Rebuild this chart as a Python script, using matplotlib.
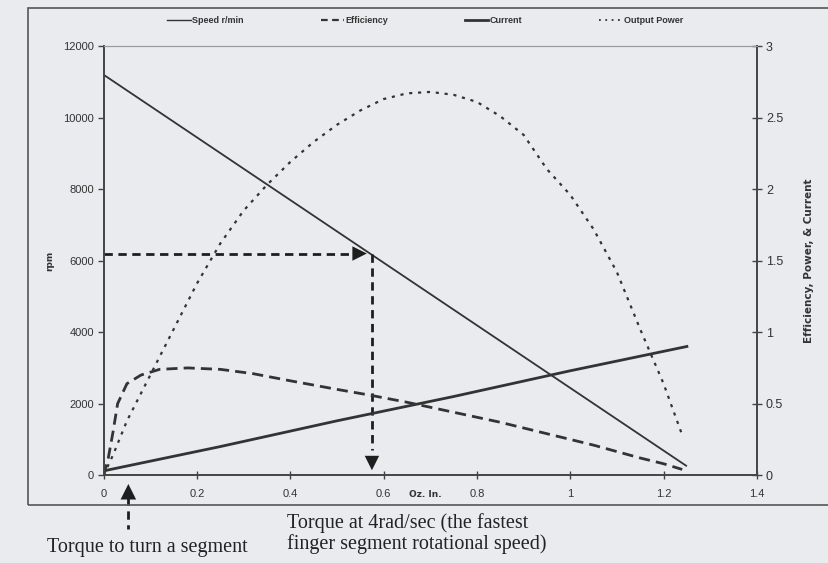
import matplotlib
matplotlib.use('Agg')
import matplotlib.pyplot as plt
from matplotlib.patches import Rectangle
from matplotlib.lines import Line2D

# ---------------- data ----------------
speed_torque = [0.0, 1.25]
speed_rpm = [11200, 250]

current_torque = [0.0, 0.25, 0.5, 0.75, 1.0, 1.25]
current_amp = [0.03, 0.20, 0.38, 0.55, 0.73, 0.90]

eff_torque = [0, 0.01, 0.02, 0.03, 0.05, 0.08, 0.12, 0.18, 0.25, 0.32, 0.4,
              0.5, 0.57, 0.65, 0.75, 0.85, 0.95, 1.05, 1.15, 1.2, 1.24]
efficiency = [0.0, 0.12, 0.30, 0.50, 0.64, 0.70, 0.74, 0.75, 0.74, 0.71, 0.66,
              0.60, 0.56, 0.51, 0.44, 0.37, 0.29, 0.21, 0.12, 0.08, 0.04]

power_torque = [0, 0.02, 0.05, 0.1, 0.15, 0.2, 0.25, 0.3, 0.35, 0.4, 0.45, 0.5,
                0.55, 0.6, 0.65, 0.7, 0.75, 0.8, 0.85, 0.9, 0.95, 1.0, 1.05,
                1.1, 1.15, 1.2, 1.24]
output_power = [0, 0.14, 0.38, 0.70, 1.02, 1.34, 1.62, 1.85, 2.03, 2.19, 2.33,
                2.45, 2.55, 2.63, 2.67, 2.68, 2.66, 2.61, 2.51, 2.38, 2.14,
                1.96, 1.72, 1.42, 1.02, 0.64, 0.28]

left_ticks = [0, 2000, 4000, 6000, 8000, 10000, 12000]
right_ticks = [0, 0.5, 1, 1.5, 2, 2.5, 3]
right_tick_labels = ['0', '0.5', '1', '1.5', '2', '2.5', '3']
x_ticks = [0, 0.2, 0.4, 0.6, 0.8, 1.0, 1.2, 1.4]
x_tick_labels = ['0', '0.2', '0.4', '0.6', '0.8', '1', '1.2', '1.4']

legend_labels = ['Speed r/min', 'Efficiency', 'Current', 'Output Power']

marked_torque = 0.575
marked_speed = 6200
segment_torque = 0.053

# ---------------- style ----------------
bg = '#e9ebef'
ink = '#333333'
narrow = ['Liberation Sans Narrow', 'Liberation Sans', 'DejaVu Sans']
serif = ['Liberation Serif', 'DejaVu Serif']

fig = plt.figure(figsize=(8.29, 5.63), dpi=100, facecolor=bg)
ax = fig.add_axes([0.125, 0.156, 0.788, 0.762])
ax.set_facecolor('none')
ax2 = ax.twinx()

# outer frame of the scanned chart
fig.patches.append(Rectangle((0.034, 0.103), 1.0, 0.883, transform=fig.transFigure,
                             fill=False, ec='#555555', lw=1.2))

# series
ax.plot(speed_torque, speed_rpm, color=ink, lw=1.3, solid_capstyle='butt')
ax2.plot(current_torque, current_amp, color=ink, lw=2.0)
ax2.plot(eff_torque, efficiency, color=ink, lw=2.0, linestyle=(0, (4, 2.2)))
ax2.plot(power_torque, output_power, color=ink, lw=1.6, linestyle=(0, (1.4, 2.6)))

ax.set_xlim(0, 1.4)
ax.set_ylim(0, 12000)
ax2.set_ylim(0, 3)

# annotation arrows
arrow_color = '#1e1e1e'
ax.plot([0, marked_torque - 0.03], [marked_speed, marked_speed], color=arrow_color,
        lw=2.0, linestyle=(0, (3, 2)))
ax.annotate('', xy=(marked_torque - 0.005, marked_speed),
            xytext=(marked_torque - 0.06, marked_speed),
            arrowprops=dict(arrowstyle='-|>', mutation_scale=26, lw=0, color=arrow_color))
ax.plot([marked_torque, marked_torque], [marked_speed, 700], color=arrow_color,
        lw=2.0, linestyle=(0, (3, 2)))
ax.annotate('', xy=(marked_torque, 60), xytext=(marked_torque, 1200),
            arrowprops=dict(arrowstyle='-|>', mutation_scale=26, lw=0, color=arrow_color))

xtr = ax.get_xaxis_transform()
ax.plot([segment_torque, segment_torque], [-0.05, -0.125], transform=xtr, clip_on=False,
        color=arrow_color, lw=2.0, linestyle=(0, (3, 2)))
ax.annotate('', xy=(segment_torque, -0.014), xycoords=xtr,
            xytext=(segment_torque, -0.08), textcoords=xtr,
            arrowprops=dict(arrowstyle='-|>', mutation_scale=28, lw=0, color=arrow_color),
            annotation_clip=False)

# axes styling
for a in (ax, ax2):
    for s in a.spines.values():
        s.set_color('#444444')
        s.set_linewidth(1.2)
    a.spines['top'].set_color('#9a9a9a')
    a.spines['top'].set_linewidth(0.8)

ax.set_xticks(x_ticks)
ax.set_xticklabels(x_tick_labels, family=narrow, fontsize=8, color=ink)
ax.set_yticks(left_ticks)
ax.set_yticklabels([str(v) for v in left_ticks], family=narrow, fontsize=8, color=ink)
ax2.set_yticks(right_ticks)
ax2.set_yticklabels(right_tick_labels, family=narrow, fontsize=9, color=ink)

ax.tick_params(axis='x', direction='inout', length=6, width=1, pad=7, colors='#444444',
               labelcolor=ink)
ax.tick_params(axis='y', direction='out', length=4, width=1, pad=3, colors='#444444',
               labelcolor=ink)
ax2.tick_params(axis='y', direction='inout', length=7, width=1, pad=3, colors='#444444',
                labelcolor=ink)

ax.text(0.69, -0.045, 'Oz. In.', transform=xtr, ha='center', va='center',
        fontsize=6.5, fontweight='bold', color=ink)
ax.set_ylabel('rpm', fontsize=6.5, fontweight='bold', color=ink, labelpad=6)
ax2.set_ylabel('Efficiency, Power, & Current', fontsize=7.5, fontweight='bold',
               color=ink, labelpad=15)

# legend
handles = [Line2D([], [], color=ink, lw=1.0),
           Line2D([], [], color=ink, lw=1.6, linestyle=(0, (3, 2))),
           Line2D([], [], color=ink, lw=2.0),
           Line2D([], [], color=ink, lw=1.3, linestyle=(0, (1, 2.5)))]
leg = fig.legend(handles, legend_labels, loc='center', bbox_to_anchor=(0.513, 0.964),
                 ncol=4, frameon=False, handlelength=2.6, handletextpad=0.15,
                 columnspacing=8.5, prop={'family': narrow, 'size': 6.5,
                                          'weight': 'bold'})
for t in leg.get_texts():
    t.set_color(ink)

# captions below the chart
fig.text(0.057, 0.020, 'Torque to turn a segment', family=serif, fontsize=14.5,
         color='#222222', ha='left', va='baseline')
fig.text(0.346, 0.062, 'Torque at 4rad/sec (the fastest', family=serif, fontsize=14.5,
         color='#222222', ha='left', va='baseline')
fig.text(0.346, 0.024, 'finger segment rotational speed)', family=serif, fontsize=14.5,
         color='#222222', ha='left', va='baseline')

fig.savefig('out.png', dpi=100, facecolor=bg)
